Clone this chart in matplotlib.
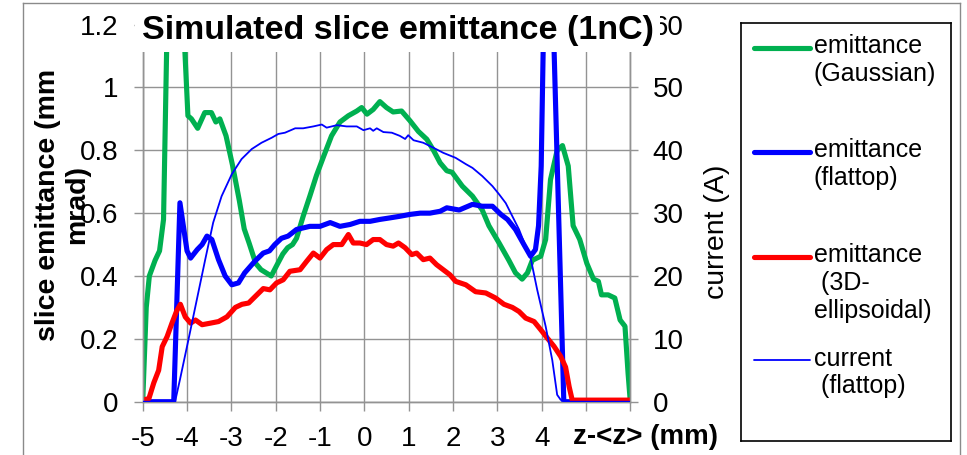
"""Simulated slice emittance (1nC): emittance of three laser profiles plus the flattop current."""

import matplotlib
matplotlib.use("Agg")
import matplotlib.pyplot as plt  # noqa: E402
from matplotlib.lines import Line2D  # noqa: E402
from matplotlib.patches import Rectangle  # noqa: E402

plt.rcParams["font.family"] = ["Liberation Sans", "DejaVu Sans"]

# emittance, Gaussian profile (mm mrad)
z_gauss = [-5.0, -4.92, -4.85, -4.72, -4.62, -4.53, -4.46, -4.4, -4.15, -4.05, -3.98, -3.9,
           -3.76, -3.6, -3.45, -3.35, -3.26, -3.12, -2.97, -2.82, -2.71, -2.6, -2.45, -2.33,
           -2.1, -1.99, -1.84, -1.73, -1.62, -1.53, -1.38, -1.23, -1.08, -0.92, -0.74, -0.55,
           -0.36, -0.17, -0.06, 0.06, 0.2, 0.35, 0.5, 0.65, 0.84, 1.03, 1.22, 1.41, 1.56, 1.71,
           1.86, 1.98, 2.21, 2.44, 2.66, 2.81, 3.04, 3.26, 3.41, 3.56, 3.68, 3.79, 3.98, 4.09,
           4.2, 4.35, 4.47, 4.6, 4.71, 4.86, 5.02, 5.17, 5.28, 5.35, 5.5, 5.65, 5.77, 5.88,
           5.95, 6.0]
emit_gauss = [0.0, 0.30, 0.40, 0.45, 0.48, 0.58, 1.12, 1.4, 1.4, 1.12, 0.91, 0.90,
              0.87, 0.92, 0.92, 0.89, 0.90, 0.846, 0.75, 0.64, 0.55, 0.505, 0.44, 0.42,
              0.40, 0.43, 0.47, 0.49, 0.50, 0.52, 0.59, 0.654, 0.72, 0.78, 0.846, 0.89,
              0.91, 0.925, 0.936, 0.915, 0.93, 0.955, 0.936, 0.922, 0.925, 0.894, 0.86, 0.835,
              0.80, 0.76, 0.735, 0.73, 0.686, 0.654, 0.61, 0.56, 0.505, 0.45, 0.41, 0.39,
              0.41, 0.45, 0.463, 0.516, 0.707, 0.80, 0.815, 0.75, 0.56, 0.516, 0.44, 0.39,
              0.383, 0.34, 0.34, 0.33, 0.26, 0.24, 0.09, 0.0]

# emittance, flattop profile (mm mrad)
z_flat = [-5.0, -4.3, -4.16, -4.0, -3.92, -3.77, -3.66, -3.55, -3.44, -3.29, -3.14, -2.99,
          -2.84, -2.7, -2.47, -2.28, -2.14, -2.02, -1.87, -1.72, -1.53, -1.23, -1.0, -0.77,
          -0.55, -0.32, -0.1, 0.13, 0.35, 0.58, 0.8, 1.03, 1.26, 1.48, 1.71, 1.86, 2.14,
          2.44, 2.66, 2.89, 3.08, 3.23, 3.41, 3.6, 3.75, 3.86, 3.93, 3.99, 4.02, 4.08, 4.2,
          4.5, 6.0]
emit_flat = [0.0, 0.0, 0.633, 0.48, 0.457, 0.484, 0.50, 0.527, 0.516, 0.452, 0.40, 0.372,
             0.378, 0.41, 0.447, 0.473, 0.48, 0.50, 0.52, 0.527, 0.548, 0.558, 0.558, 0.57,
             0.558, 0.564, 0.574, 0.574, 0.58, 0.585, 0.59, 0.596, 0.60, 0.60, 0.606, 0.617,
             0.61, 0.628, 0.622, 0.622, 0.596, 0.58, 0.548, 0.50, 0.463, 0.484, 0.56, 0.75,
             1.0, 1.5, 1.53, 0.0, 0.0]

# emittance, 3D-ellipsoidal profile (mm mrad)
z_ellip = [-5.0, -4.86, -4.75, -4.64, -4.56, -4.45, -4.34, -4.23, -4.15, -4.04, -3.92, -3.81,
           -3.66, -3.47, -3.29, -3.1, -2.91, -2.76, -2.61, -2.46, -2.28, -2.13, -1.98, -1.83,
           -1.68, -1.45, -1.3, -1.15, -1.0, -0.85, -0.7, -0.51, -0.36, -0.25, -0.1, 0.05, 0.2,
           0.35, 0.5, 0.65, 0.77, 0.92, 1.07, 1.18, 1.33, 1.48, 1.63, 1.78, 1.93, 2.06, 2.29,
           2.51, 2.74, 2.96, 3.15, 3.34, 3.49, 3.64, 3.83, 3.98, 4.13, 4.28, 4.43, 4.54, 4.62,
           4.69, 6.0]
emit_ellip = [0.005, 0.01, 0.06, 0.10, 0.175, 0.207, 0.25, 0.29, 0.31, 0.27, 0.25, 0.26,
              0.245, 0.25, 0.255, 0.27, 0.30, 0.31, 0.314, 0.335, 0.36, 0.356, 0.378, 0.388,
              0.415, 0.42, 0.447, 0.473, 0.457, 0.484, 0.50, 0.50, 0.532, 0.505, 0.505, 0.50,
              0.516, 0.516, 0.50, 0.495, 0.505, 0.49, 0.468, 0.473, 0.452, 0.457, 0.436, 0.42,
              0.404, 0.383, 0.372, 0.35, 0.346, 0.33, 0.31, 0.30, 0.287, 0.266, 0.255, 0.229,
              0.202, 0.176, 0.144, 0.11, 0.048, 0.005, 0.005]

# current, flattop profile (A)
z_curr = [-5.0, -4.27, -4.16, -3.97, -3.78, -3.59, -3.41, -3.22, -2.99, -2.77, -2.54, -2.32,
          -2.09, -1.94, -1.79, -1.56, -1.38, -1.15, -0.96, -0.85, -0.62, -0.4, -0.17, -0.02,
          0.13, 0.2, 0.28, 0.43, 0.62, 0.8, 0.92, 0.99, 1.11, 1.33, 1.56, 1.78, 2.06, 2.29,
          2.44, 2.66, 2.89, 3.04, 3.19, 3.34, 3.49, 3.64, 3.75, 3.9, 4.09, 4.24, 4.35, 4.43,
          4.54, 6.0]
current = [0.0, 0.0, 3.5, 9.8, 16.2, 22.6, 28.5, 32.7, 36.2, 38.6, 40.2, 41.2,
           42.0, 42.6, 42.8, 43.5, 43.5, 43.8, 44.1, 43.6, 44.0, 43.8, 43.8, 43.2,
           43.5, 43.1, 43.5, 42.9, 42.8, 42.3, 41.8, 42.4, 41.6, 41.2, 40.4, 39.6, 38.8, 37.8,
           37.2, 35.9, 34.3, 33.0, 31.6, 29.5, 27.4, 24.7, 22.9, 17.8, 12.0, 6.6, 1.1, 0.3,
           0.0, 0.0]

x_ticks = [-5, -4, -3, -2, -1, 0, 1, 2, 3, 4, 5, 6]
x_tick_labels = ["-5", "-4", "-3", "-2", "-1", "0", "1", "2", "3", "4", "", ""]
y_ticks = [0, 0.2, 0.4, 0.6, 0.8, 1.0, 1.2]
y_tick_labels = ["0", "0.2", "0.4", "0.6", "0.8", "1", "1.2"]
y2_ticks = [0, 10, 20, 30, 40, 50, 60]

series_labels = ["emittance\n(Gaussian)", "emittance\n(flattop)",
                 "emittance\n (3D-\nellipsoidal)", "current\n (flattop)"]
GREEN, BLUE, RED = "#00B050", "#0000FF", "#FF0000"
GRID = "#939393"

W, H = 967, 455


def fx(px):  # pixel x -> figure fraction
    return px / W


def fy(py):  # pixel y (from top) -> figure fraction
    return 1 - py / H


fig = plt.figure(figsize=(W / 100, H / 100), dpi=100)

# plot area: x=-5..6 spans px 142.7..630.3, y=0..1.2 spans px 401.7..24.6
ax = fig.add_axes([fx(142.7), fy(401.7), (630.3 - 142.7) / W, (401.7 - 24.6) / H])
ax2 = ax.twinx()

ax.plot(z_gauss, emit_gauss, color=GREEN, lw=3.7, solid_joinstyle="round", zorder=2)
ax.plot(z_flat, emit_flat, color=BLUE, lw=3.7, solid_joinstyle="round", zorder=3)
ax.plot(z_ellip, emit_ellip, color=RED, lw=3.7, solid_joinstyle="round", zorder=4)
ax2.plot(z_curr, current, color=BLUE, lw=1.3, zorder=5)

ax.set_xlim(-5, 6)
ax.set_ylim(0, 1.2)
ax2.set_ylim(0, 60)
ax.set_xticks(x_ticks, x_tick_labels)
ax.set_yticks(y_ticks, y_tick_labels)
ax2.set_yticks(y2_ticks, [str(v) for v in y2_ticks])
ax.grid(True, color=GRID, lw=1.0)
ax.set_axisbelow(True)
ax.tick_params(axis="both", labelsize=20, length=6.5, width=1.0, color=GRID, pad=11)
ax2.tick_params(axis="y", labelsize=20, length=6, width=1.0, color=GRID, pad=10)
for a in (ax, ax2):
    for s in a.spines.values():
        s.set_color(GRID)
        s.set_linewidth(1.0)

# axis titles (Excel style, placed by hand)
fig.text(fx(63), fy(205), "slice emittance (mm\nmrad)", rotation=90, ha="center", va="center",
         fontsize=20.5, fontweight="bold", multialignment="center", linespacing=1.15)
fig.text(fx(717), fy(232), "current (A)", rotation=90, ha="center", va="center", fontsize=20.5)
fig.text(fx(573), fy(437), "z-<z> (mm)", ha="left", va="center", fontsize=20, fontweight="bold")

# chart title sits in a white box that hides the top of the plot area
fig.add_artist(Rectangle((fx(135), fy(51.7)), fx(660 - 135), (51.7 - 5) / H,
                         transform=fig.transFigure, facecolor="white", edgecolor="none",
                         zorder=10))
fig.text(fx(398), fy(39), "Simulated slice emittance (1nC)", ha="center", va="baseline",
         fontsize=24.5, fontweight="bold", zorder=11)

# outer chart border (bottom edge falls outside the image)
for xs, ys in [([22.7, 22.7], [455, 2.7]), ([22.7, 960], [2.7, 2.7]), ([960, 960], [2.7, 455])]:
    fig.add_artist(Line2D([fx(x) for x in xs], [fy(y) for y in ys], transform=fig.transFigure,
                          color="#8a8a8a", lw=1.0, zorder=12))

# legend box drawn by hand so each key lines up with the first text line
leg = fig.add_axes([fx(740.7), fy(441), (950.7 - 740.7) / W, (441 - 22.7) / H])
leg.set_xlim(0, 210)
leg.set_ylim(418.3, 0)
leg.set_xticks([])
leg.set_yticks([])
for s in leg.spines.values():
    s.set_color("black")
    s.set_linewidth(1.2)
key_y = [25, 129, 234, 337.3]
key_style = [(GREEN, 3.7), (BLUE, 3.7), (RED, 3.7), (BLUE, 1.3)]
for y, (c, w), lab in zip(key_y, key_style, series_labels):
    leg.plot([13, 69], [y, y], color=c, lw=w, solid_capstyle="round")
    leg.text(73, y - 13.5, lab, ha="left", va="top", fontsize=18, linespacing=1.2)

fig.savefig("out.png", dpi=100)
